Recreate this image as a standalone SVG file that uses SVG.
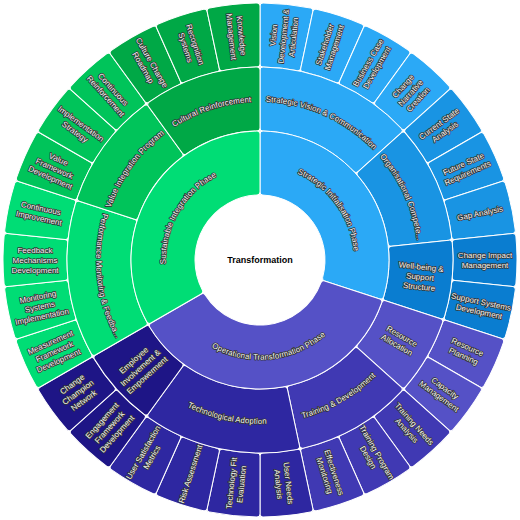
<svg xmlns="http://www.w3.org/2000/svg" width="520" height="520" viewBox="0 0 520 520">
<style>
.seg{stroke:#fff;stroke-width:1}
.t{font-family:"Liberation Sans",Arial,sans-serif;font-size:8px;fill:#f5f5f5;stroke:#333;stroke-width:1.6px;paint-order:stroke;stroke-linejoin:round;text-anchor:middle}
.c{font-family:"Liberation Sans",Arial,sans-serif;font-size:9px;font-weight:bold;fill:#000;text-anchor:middle}
</style>
<defs>
<path id="s3" d="M263.035,3.018 A257,257 0 0 1 310.461,8.003 A3,3 0 0 1 312.806,11.568 L300.746,68.305 A3,3 0 0 1 297.233,70.626 A193,193 0 0 0 262.954,67.023 A3,3 0 0 1 260,64.023 L260,6.018 A3,3 0 0 1 263.035,3.018 Z"/>
<path id="s24" d="M263.047,67.024 A193,193 0 0 1 335.707,82.468 A3,3 0 0 1 337.270,86.448 L313.675,139.443 A3,3 0 0 1 309.777,140.991 A129,129 0 0 0 262.932,131.033 A3,3 0 0 1 260,128.034 L260,70.024 A3,3 0 0 1 263.047,67.024 Z"/>
<path id="s36" d="M263.047,67.024 A193,193 0 0 1 370.963,102.088 A3,3 0 0 1 371.665,106.306 L337.568,153.237 A3,3 0 0 1 333.433,153.940 A129,129 0 0 0 262.932,131.033 A3,3 0 0 1 260,128.034 L260,70.024 A3,3 0 0 1 263.047,67.024 Z"/>
<path id="s48" d="M263.047,67.024 A193,193 0 0 1 401.370,128.609 A3,3 0 0 1 401.180,132.881 L358.070,171.697 A3,3 0 0 1 353.879,171.526 A129,129 0 0 0 262.932,131.033 A3,3 0 0 1 260,128.034 L260,70.024 A3,3 0 0 1 263.047,67.024 Z"/>
<path id="s108" d="M263.071,131.037 A129,129 0 0 1 383.601,296.931 A3,3 0 0 1 379.799,298.925 L324.609,280.993 A3,3 0 0 1 322.645,277.339 A65,65 0 0 0 262.868,195.063 A3,3 0 0 1 260,192.066 L260,134.036 A3,3 0 0 1 263.071,131.037 Z"/>
<path id="s132" d="M263.071,131.037 A129,129 0 0 1 357.894,344.011 A3,3 0 0 1 353.609,344.286 L310.485,305.457 A3,3 0 0 1 310.176,301.320 A65,65 0 0 0 262.868,195.063 A3,3 0 0 1 260,192.066 L260,134.036 A3,3 0 0 1 263.071,131.037 Z"/>
<path id="s120" d="M263.071,131.037 A129,129 0 0 1 373.221,321.822 A3,3 0 0 1 369.088,322.982 L318.833,293.967 A3,3 0 0 1 317.671,289.985 A65,65 0 0 0 262.868,195.063 A3,3 0 0 1 260,192.066 L260,134.036 A3,3 0 0 1 263.071,131.037 Z"/>
<path id="r1u" d="M178.42,212.9 A94.2,94.2 0 0 1 341.58,212.9" fill="none"/>
<path id="r1l" d="M173.57,309.9 A99.8,99.8 0 0 0 346.43,309.9" fill="none"/>
<path id="r2u" d="M122.995,180.9 A158.2,158.2 0 0 1 397.005,180.9" fill="none"/>
<path id="r2l" d="M118.145,341.9 A163.8,163.8 0 0 0 401.855,341.9" fill="none"/>
</defs>
<rect width="520" height="520" fill="#fff"/>
<g id="connectors"/>

<g id="leaves">
<g id="n-vision"><use href="#s3" class="seg" fill="#2BA9F6"/><text class="t" transform="rotate(-84 260 260)"><tspan x="485" y="252.8">Vision</tspan><tspan x="485" y="262.8">Development &amp;</tspan><tspan x="485" y="272.8">Articulation</tspan></text></g>
<g id="n-stakeholder"><use href="#s3" class="seg" fill="#2BA9F6" transform="rotate(12 260 260)"/><text class="t" transform="rotate(-72 260 260)"><tspan x="485" y="257.8">Stakeholder</tspan><tspan x="485" y="267.8">Management</tspan></text></g>
<g id="n-business"><use href="#s3" class="seg" fill="#2BA9F6" transform="rotate(24 260 260)"/><text class="t" transform="rotate(-60 260 260)"><tspan x="485" y="257.8">Business Case</tspan><tspan x="485" y="267.8">Development</tspan></text></g>
<g id="n-narrative"><use href="#s3" class="seg" fill="#2BA9F6" transform="rotate(36 260 260)"/><text class="t" transform="rotate(-48 260 260)"><tspan x="485" y="252.8">Change</tspan><tspan x="485" y="262.8">Narrative</tspan><tspan x="485" y="272.8">Creation</tspan></text></g>
<g id="n-current"><use href="#s3" class="seg" fill="#1994E3" transform="rotate(48 260 260)"/><text class="t" transform="rotate(-36 260 260)"><tspan x="485" y="257.8">Current State</tspan><tspan x="485" y="267.8">Analysis</tspan></text></g>
<g id="n-future"><use href="#s3" class="seg" fill="#1994E3" transform="rotate(60 260 260)"/><text class="t" transform="rotate(-24 260 260)"><tspan x="485" y="257.8">Future State</tspan><tspan x="485" y="267.8">Requirements</tspan></text></g>
<g id="n-gap"><use href="#s3" class="seg" fill="#1994E3" transform="rotate(72 260 260)"/><text class="t" transform="rotate(-12 260 260)"><tspan x="485" y="262.8">Gap Analysis</tspan></text></g>
<g id="n-impact"><use href="#s3" class="seg" fill="#0A7DD0" transform="rotate(84 260 260)"/><text class="t"><tspan x="485" y="257.8">Change Impact</tspan><tspan x="485" y="267.8">Management</tspan></text></g>
<g id="n-support"><use href="#s3" class="seg" fill="#0A7DD0" transform="rotate(96 260 260)"/><text class="t" transform="rotate(12 260 260)"><tspan x="485" y="257.8">Support Systems</tspan><tspan x="485" y="267.8">Development</tspan></text></g>
<g id="n-resplan"><use href="#s3" class="seg" fill="#5551C6" transform="rotate(108 260 260)"/><text class="t" transform="rotate(24 260 260)"><tspan x="485" y="257.8">Resource</tspan><tspan x="485" y="267.8">Planning</tspan></text></g>
<g id="n-capacity"><use href="#s3" class="seg" fill="#5551C6" transform="rotate(120 260 260)"/><text class="t" transform="rotate(36 260 260)"><tspan x="485" y="257.8">Capacity</tspan><tspan x="485" y="267.8">Management</tspan></text></g>
<g id="n-tna"><use href="#s3" class="seg" fill="#4039B3" transform="rotate(132 260 260)"/><text class="t" transform="rotate(48 260 260)"><tspan x="485" y="257.8">Training Needs</tspan><tspan x="485" y="267.8">Analysis</tspan></text></g>
<g id="n-tpd"><use href="#s3" class="seg" fill="#4039B3" transform="rotate(144 260 260)"/><text class="t" transform="rotate(60 260 260)"><tspan x="485" y="257.8">Training Program</tspan><tspan x="485" y="267.8">Design</tspan></text></g>
<g id="n-effect"><use href="#s3" class="seg" fill="#4039B3" transform="rotate(156 260 260)"/><text class="t" transform="rotate(72 260 260)"><tspan x="485" y="257.8">Effectiveness</tspan><tspan x="485" y="267.8">Monitoring</tspan></text></g>
<g id="n-userneeds"><use href="#s3" class="seg" fill="#2E27A1" transform="rotate(168 260 260)"/><text class="t" transform="rotate(84 260 260)"><tspan x="485" y="257.8">User Needs</tspan><tspan x="485" y="267.8">Analysis</tspan></text></g>
<g id="n-techfit"><use href="#s3" class="seg" fill="#2E27A1" transform="rotate(180 260 260)"/><text class="t" transform="rotate(-84 260 260)"><tspan x="35" y="257.8">Technology Fit</tspan><tspan x="35" y="267.8">Evaluation</tspan></text></g>
<g id="n-risk"><use href="#s3" class="seg" fill="#2E27A1" transform="rotate(192 260 260)"/><text class="t" transform="rotate(-72 260 260)"><tspan x="35" y="262.8">Risk Assessment</tspan></text></g>
<g id="n-usersat"><use href="#s3" class="seg" fill="#2E27A1" transform="rotate(204 260 260)"/><text class="t" transform="rotate(-60 260 260)"><tspan x="35" y="257.8">User Satisfaction</tspan><tspan x="35" y="267.8">Metrics</tspan></text></g>
<g id="n-engage"><use href="#s3" class="seg" fill="#1E1586" transform="rotate(216 260 260)"/><text class="t" transform="rotate(-48 260 260)"><tspan x="35" y="252.8">Engagement</tspan><tspan x="35" y="262.8">Framework</tspan><tspan x="35" y="272.8">Development</tspan></text></g>
<g id="n-champion"><use href="#s3" class="seg" fill="#1E1586" transform="rotate(228 260 260)"/><text class="t" transform="rotate(-36 260 260)"><tspan x="35" y="252.8">Change</tspan><tspan x="35" y="262.8">Champion</tspan><tspan x="35" y="272.8">Network</tspan></text></g>
<g id="n-measure"><use href="#s3" class="seg" fill="#00DD75" transform="rotate(240 260 260)"/><text class="t" transform="rotate(-24 260 260)"><tspan x="35" y="252.8">Measurement</tspan><tspan x="35" y="262.8">Framework</tspan><tspan x="35" y="272.8">Development</tspan></text></g>
<g id="n-monsys"><use href="#s3" class="seg" fill="#00DD75" transform="rotate(252 260 260)"/><text class="t" transform="rotate(-12 260 260)"><tspan x="35" y="252.8">Monitoring</tspan><tspan x="35" y="262.8">Systems</tspan><tspan x="35" y="272.8">Implementation</tspan></text></g>
<g id="n-feedback"><use href="#s3" class="seg" fill="#00DD75" transform="rotate(264 260 260)"/><text class="t"><tspan x="35" y="252.8">Feedback</tspan><tspan x="35" y="262.8">Mechanisms</tspan><tspan x="35" y="272.8">Development</tspan></text></g>
<g id="n-contimp"><use href="#s3" class="seg" fill="#00DD75" transform="rotate(276 260 260)"/><text class="t" transform="rotate(12 260 260)"><tspan x="35" y="257.8">Continuous</tspan><tspan x="35" y="267.8">Improvement</tspan></text></g>
<g id="n-valframe"><use href="#s3" class="seg" fill="#00C45A" transform="rotate(288 260 260)"/><text class="t" transform="rotate(24 260 260)"><tspan x="35" y="252.8">Value</tspan><tspan x="35" y="262.8">Framework</tspan><tspan x="35" y="272.8">Development</tspan></text></g>
<g id="n-implstrat"><use href="#s3" class="seg" fill="#00C45A" transform="rotate(300 260 260)"/><text class="t" transform="rotate(36 260 260)"><tspan x="35" y="257.8">Implementation</tspan><tspan x="35" y="267.8">Strategy</tspan></text></g>
<g id="n-contreinf"><use href="#s3" class="seg" fill="#00C45A" transform="rotate(312 260 260)"/><text class="t" transform="rotate(48 260 260)"><tspan x="35" y="257.8">Continuous</tspan><tspan x="35" y="267.8">Reinforcement</tspan></text></g>
<g id="n-roadmap"><use href="#s3" class="seg" fill="#00A846" transform="rotate(324 260 260)"/><text class="t" transform="rotate(60 260 260)"><tspan x="35" y="257.8">Culture Change</tspan><tspan x="35" y="267.8">Roadmap</tspan></text></g>
<g id="n-recog"><use href="#s3" class="seg" fill="#00A846" transform="rotate(336 260 260)"/><text class="t" transform="rotate(72 260 260)"><tspan x="35" y="257.8">Recognition</tspan><tspan x="35" y="267.8">Systems</tspan></text></g>
<g id="n-knowledge"><use href="#s3" class="seg" fill="#00A846" transform="rotate(348 260 260)"/><text class="t" transform="rotate(84 260 260)"><tspan x="35" y="257.8">Knowledge</tspan><tspan x="35" y="267.8">Management</tspan></text></g>
</g>

<g id="groups">
<g id="n-svc"><use href="#s48" class="seg" fill="#2BA9F6"/><text class="t" transform="rotate(24 260 260)"><textPath href="#r2u" startOffset="50%">Strategic Vision &amp; Communication</textPath></text></g>
<g id="n-org"><use href="#s36" class="seg" fill="#1994E3" transform="rotate(48 260 260)"/><text class="t" transform="rotate(66 260 260)"><textPath href="#r2u" startOffset="50%">Organisational Compete...</textPath></text></g>
<g id="n-wellbeing"><use href="#s24" class="seg" fill="#0A7DD0" transform="rotate(84 260 260)"/><text class="t" transform="rotate(6 260 260)"><tspan x="421" y="252.8">Well-being &amp;</tspan><tspan x="421" y="262.8">Support</tspan><tspan x="421" y="272.8">Structure</tspan></text></g>
<g id="n-resalloc"><use href="#s24" class="seg" fill="#5551C6" transform="rotate(108 260 260)"/><text class="t" transform="rotate(30 260 260)"><tspan x="421" y="257.8">Resource</tspan><tspan x="421" y="267.8">Allocation</tspan></text></g>
<g id="n-train"><use href="#s36" class="seg" fill="#4039B3" transform="rotate(132 260 260)"/><text class="t" transform="rotate(-30 260 260)"><textPath href="#r2l" startOffset="50%">Training &amp; Development</textPath></text></g>
<g id="n-tech"><use href="#s48" class="seg" fill="#2E27A1" transform="rotate(168 260 260)"/><text class="t" transform="rotate(12 260 260)"><textPath href="#r2l" startOffset="50%">Technological Adoption</textPath></text></g>
<g id="n-employee"><use href="#s24" class="seg" fill="#1E1586" transform="rotate(216 260 260)"/><text class="t" transform="rotate(-42 260 260)"><tspan x="99" y="252.8">Employee</tspan><tspan x="99" y="262.8">Involvement &amp;</tspan><tspan x="99" y="272.8">Empowerment</tspan></text></g>
<g id="n-perf"><use href="#s48" class="seg" fill="#00DD75" transform="rotate(240 260 260)"/><text class="t" transform="rotate(84 260 260)"><textPath href="#r2l" startOffset="50%">Performance Monitoring &amp; Feedba...</textPath></text></g>
<g id="n-valint"><use href="#s36" class="seg" fill="#00C45A" transform="rotate(288 260 260)"/><text class="t" transform="rotate(306 260 260)"><textPath href="#r2u" startOffset="50%">Value Integration Program</textPath></text></g>
<g id="n-cultural"><use href="#s36" class="seg" fill="#00A846" transform="rotate(324 260 260)"/><text class="t" transform="rotate(342 260 260)"><textPath href="#r2u" startOffset="50%">Cultural Reinforcement</textPath></text></g>
</g>

<g id="phases">
<g id="n-strategic"><use href="#s108" class="seg" fill="#2BA9F6"/><text class="t" transform="rotate(54 260 260)"><textPath href="#r1u" startOffset="50%">Strategic Initialisation Phase</textPath></text></g>
<g id="n-operational"><use href="#s132" class="seg" fill="#5551C6" transform="rotate(108 260 260)"/><text class="t" transform="rotate(-6 260 260)"><textPath href="#r1l" startOffset="50%">Operational Transformation Phase</textPath></text></g>
<g id="n-sustainable"><use href="#s120" class="seg" fill="#00DD75" transform="rotate(240 260 260)"/><text class="t" transform="rotate(300 260 260)"><textPath href="#r1u" startOffset="50%">Sustainable Integration Phase</textPath></text></g>
</g>

<g id="n-root"><text class="c" x="260" y="263.3">Transformation</text></g>
</svg>
